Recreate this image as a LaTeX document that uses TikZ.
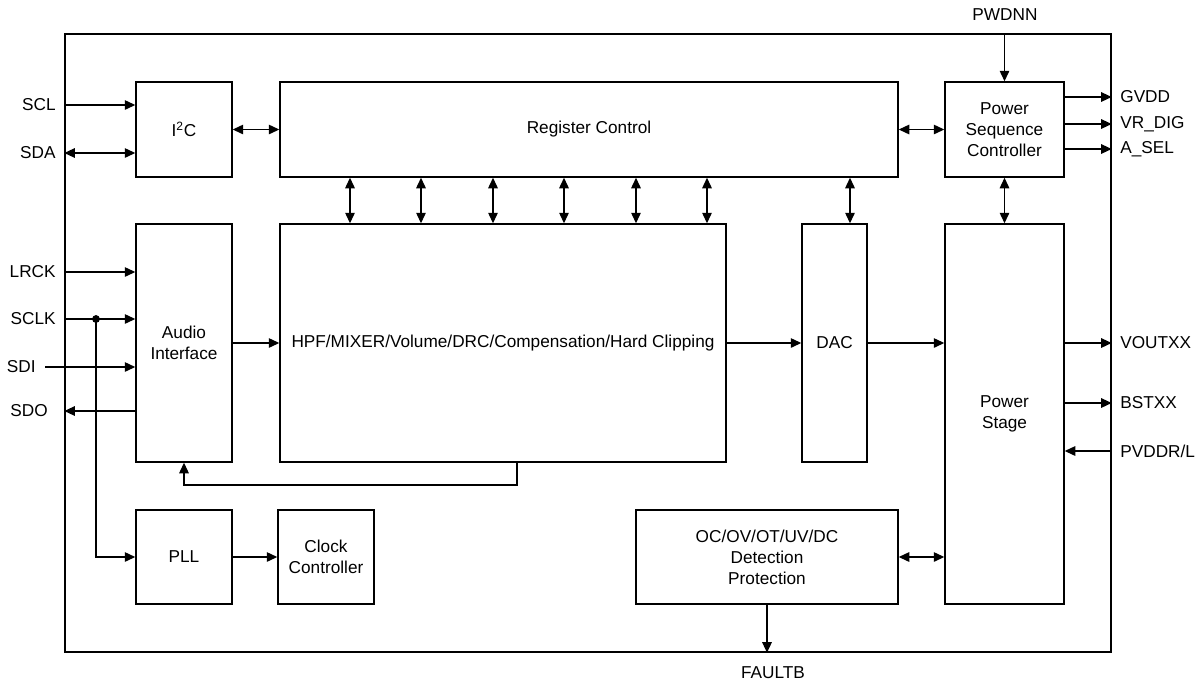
\documentclass[tikz,border=0pt]{standalone}
\usepackage{fontspec}
\setmainfont{Liberation Sans}
\usetikzlibrary{arrows.meta}

\tikzset{
    blk/.style 2 args={draw, line width=0.8pt, inner sep=0pt, align=center,
        minimum width=#1*0.02cm, minimum height=#2*0.02cm, font=\fontsize{9.8}{12}\selectfont},
    pinlbl/.style={inner sep=0pt, font=\fontsize{9.8}{12}\selectfont},
    sig/.style={line width=0.8pt, -{Triangle[length=6pt,width=5.4pt]}},
    dsig/.style={line width=0.8pt, {Triangle[length=6pt,width=5.4pt]}-{Triangle[length=6pt,width=5.4pt]}},
}

\begin{document}
\begin{tikzpicture}[x=0.02cm, y=-0.02cm]
        \useasboundingbox (0,0) rectangle (1203,684);

        % blocks
        \node[blk={1046}{618}] (chip) at (588,343) {};
        \node[blk={96}{95}] (i2c) at (184,129.5) {I\textsuperscript{2}C};
        \node[blk={618}{95}] (reg) at (589,129.5) {Register Control};
        \node[blk={119}{95}] (psc) at (1004.5,129.5) {Power\\Sequence\\Controller};
        \node[blk={96}{238}] (aif) at (184,343) {Audio\\Interface};
        \node[blk={446}{238}] (dsp) at (503,343) {HPF/MIXER/Volume/DRC/Compensation/Hard Clipping};
        \node[blk={65}{238}] (dac) at (834.5,343) {DAC};
        \node[blk={119}{380}] (pstage) at (1004.5,414) {Power\\Stage};
        \node[blk={262}{94}] (prot) at (767,557) {OC/OV/OT/UV/DC\\Detection\\Protection};
        \node[blk={96}{94}] (pll) at (184,557) {PLL};
        \node[blk={96}{94}] (clkctl) at (326,557) {Clock\\Controller};

        % pin labels
        \node[pinlbl, anchor=east] (scl) at (56,105) {SCL};
        \node[pinlbl, anchor=east] (sda) at (56,153) {SDA};
        \node[pinlbl, anchor=east] (lrck) at (56,272) {LRCK};
        \node[pinlbl, anchor=east] (sclk) at (56,319) {SCLK};
        \node[pinlbl, anchor=east] (sdi) at (36,367) {SDI};
        \node[pinlbl, anchor=east] (sdo) at (48,411) {SDO};
        \node[pinlbl, anchor=west] (gvdd) at (1120,97) {GVDD};
        \node[pinlbl, anchor=west] (vrdig) at (1120,124) {VR\_DIG};
        \node[pinlbl, anchor=west] (asel) at (1120,149) {A\_SEL};
        \node[pinlbl, anchor=west] (vout) at (1120,343) {VOUTXX};
        \node[pinlbl, anchor=west] (bst) at (1120,403) {BSTXX};
        \node[pinlbl, anchor=west] (pvdd) at (1120,451) {PVDDR/L};
        \node[pinlbl] (pwdnn) at (1005,15) {PWDNN};
        \node[pinlbl] (faultb) at (773,673) {FAULTB};

        \coordinate (sdiin) at (45,367);
        \coordinate (tap) at (96,319);
        \coordinate (fb) at (517,485);

        % left side pins
        \draw[sig] (chip.west |- scl) -- (i2c.west |- scl);
        \draw[dsig] (chip.west |- sda) -- (i2c.west |- sda);
        \draw[sig] (chip.west |- lrck) -- (aif.west |- lrck);
        \draw[sig] (chip.west |- sclk) -- (aif.west |- sclk);
        \draw[sig] (sdiin) -- (aif.west |- sdiin);
        \draw[sig] (aif.west |- sdo) -- (chip.west |- sdo);
        \draw[fill] (tap) circle (2pt);
        \draw[sig] (tap) |- (pll.west);

        % right side pins
        \draw[sig] (psc.north |- chip.north) -- (psc.north);
        \draw[sig] (psc.east |- gvdd) -- (chip.east |- gvdd);
        \draw[sig] (psc.east |- vrdig) -- (chip.east |- vrdig);
        \draw[sig] (psc.east |- asel) -- (chip.east |- asel);
        \draw[sig] (pstage.east |- vout) -- (chip.east |- vout);
        \draw[sig] (pstage.east |- bst) -- (chip.east |- bst);
        \draw[sig] (chip.east |- pvdd) -- (pstage.east |- pvdd);
        \draw[sig] (prot.south) -- (prot.south |- chip.south);

        % internal paths
        \draw[dsig] (i2c.east) -- (reg.west);
        \draw[dsig] (reg.east) -- (psc.west);
        \draw[dsig] (psc.south) -- (pstage.north);
        \foreach \x in {350,421,493,564,636,707,850}
            \draw[dsig] (\x,0 |- reg.south) -- (\x,0 |- dsp.north);
        \draw[sig] (aif.east) -- (dsp.west);
        \draw[sig] (dsp.east) -- (dac.west);
        \draw[sig] (dac.east) -- (pstage.west |- dac.east);
        \draw[sig] (fb |- dsp.south) -- (fb) -| (aif.south);
        \draw[sig] (pll.east) -- (clkctl.west);
        \draw[dsig] (prot.east) -- (pstage.west |- prot.east);

    \end{tikzpicture}
\end{document}
